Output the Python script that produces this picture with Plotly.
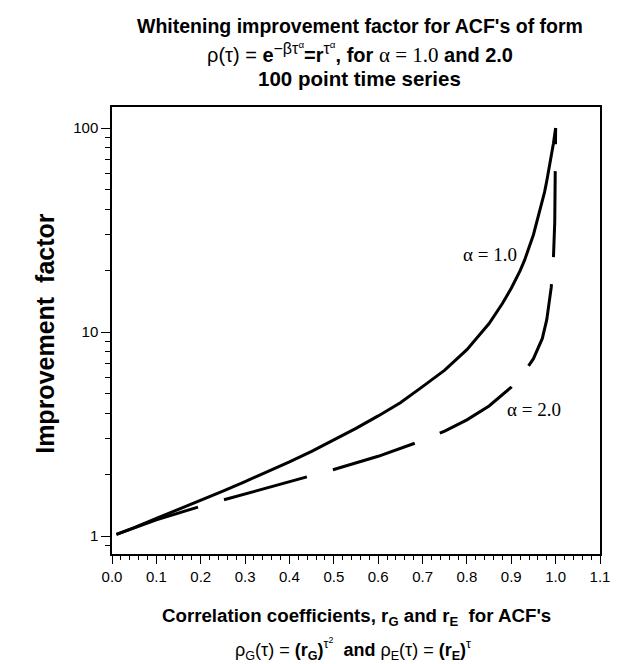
import plotly.graph_objects as go

# Correlation coefficient values and improvement factors
r_alpha1 = [0.01, 0.05, 0.10, 0.15, 0.20, 0.25, 0.30, 0.35, 0.40, 0.45, 0.50, 0.55,
            0.60, 0.65, 0.70, 0.75, 0.80, 0.85, 0.88, 0.90, 0.92, 0.93, 0.95, 0.96,
            0.97, 0.975, 0.98, 0.99, 0.995, 1.00]
f_alpha1 = [1.02, 1.10, 1.22, 1.35, 1.49, 1.66, 1.85, 2.06, 2.31, 2.60, 2.96, 3.37,
            3.88, 4.50, 5.40, 6.50, 8.2, 11.0, 13.8, 16.4, 20.0, 22.5, 30.0, 36.0,
            43.0, 48.5, 55.0, 72.0, 84.0, 100]

r_alpha2 = [0.01, 0.10, 0.20, 0.30, 0.40, 0.50, 0.60, 0.65, 0.70, 0.75, 0.80, 0.85,
            0.90, 0.93, 0.95, 0.97, 0.98, 0.99, 0.995, 0.998, 0.999, 0.9995, 0.9998,
            0.9999, 1.00]
f_alpha2 = [1.02, 1.20, 1.40, 1.61, 1.84, 2.12, 2.46, 2.68, 2.94, 3.27, 3.71, 4.34,
            5.37, 6.40, 7.40, 9.30, 11.5, 16.5, 23.0, 34.6, 46.0, 59.3, 75.0,
            83.0, 100]

x_tickvals = [0.0, 0.1, 0.2, 0.3, 0.4, 0.5, 0.6, 0.7, 0.8, 0.9, 1.0, 1.1]
x_ticktext = ["0.0", "0.1", "0.2", "0.3", "0.4", "0.5", "0.6", "0.7", "0.8", "0.9", "1.0", "1.1"]
y_tickvals = [1, 10, 100]
y_ticktext = ["1", "10", "100"]

SANS = "Liberation Sans, Arial, sans-serif"
SERIF = "Liberation Serif, Times New Roman, serif"

fig = go.Figure()
fig.add_trace(go.Scatter(x=r_alpha1, y=f_alpha1, mode="lines",
                         line=dict(color="black", width=3), showlegend=False))
fig.add_trace(go.Scatter(x=r_alpha2, y=f_alpha2, mode="lines",
                         line=dict(color="black", width=3, dash="86px,27px"),
                         showlegend=False))

fig.update_layout(
    width=623, height=664,
    margin=dict(l=104, r=31, t=99, b=118, pad=0),
    paper_bgcolor="white", plot_bgcolor="white",
    font=dict(family=SANS, color="black", size=15),
    xaxis=dict(range=[0, 1.1], showgrid=False, zeroline=False, automargin=False,
               showline=True, linecolor="black", linewidth=1.5, mirror=True,
               tickmode="array", tickvals=x_tickvals, ticktext=x_ticktext,
               ticks="outside", ticklen=8, tickwidth=1, tickcolor="black",
               tickfont=dict(size=15, family=SANS),
               minor=dict(dtick=0.02, ticks="outside", ticklen=4, tickcolor="black",
                          showgrid=False)),
    yaxis=dict(type="log", range=[-0.088, 2.103], showgrid=False, zeroline=False,
               automargin=False,
               showline=True, linecolor="black", linewidth=1.5, mirror=True,
               tickmode="array", tickvals=y_tickvals, ticktext=y_ticktext,
               ticks="outside", ticklen=9, tickwidth=1, tickcolor="black",
               tickfont=dict(size=15, family=SANS),
               minor=dict(dtick="D1", ticks="outside", ticklen=5, tickcolor="black",
                          showgrid=False)),
)

SUP_BIG = "<span style='font-size:16px'>"
ann = []
ann.append(dict(xref="paper", yref="paper", x=0.508, y=1.181, xanchor="center", yanchor="middle",
                text="<b>Whitening improvement factor for ACF's of form</b>",
                showarrow=False, font=dict(size=19.5, family=SANS)))
ann.append(dict(xref="paper", yref="paper", x=0.508, y=1.121, xanchor="center", yanchor="middle",
                text="ρ(τ) = <b>e</b><sup>" + SUP_BIG + "−βτ</span><sup>α</sup></sup>"
                     "<b>=r</b><sup>" + SUP_BIG + "τ</span><sup>α</sup></sup><b>, for</b> "
                     "<span style='font-family:Liberation Serif;font-size:21px'>α = 1.0</span><b> and 2.0</b>",
                showarrow=False, font=dict(size=20, family=SANS)))
ann.append(dict(xref="paper", yref="paper", x=0.508, y=1.064, xanchor="center", yanchor="middle",
                text="<b>100 point time series</b>",
                showarrow=False, font=dict(size=20.5, family=SANS)))
ann.append(dict(xref="paper", yref="paper", x=-0.136, y=0.494, xanchor="center", yanchor="middle",
                text="<b>Improvement  factor</b>", textangle=-90,
                showarrow=False, font=dict(size=25, family=SANS)))
ann.append(dict(xref="paper", yref="paper", x=0.500, y=-0.140, xanchor="center", yanchor="middle",
                text="<b>Correlation coefficients, r<sub>G</sub> and r<sub>E</sub>  for ACF's</b>",
                showarrow=False, font=dict(size=18.7, family=SANS)))
ann.append(dict(xref="paper", yref="paper", x=0.494, y=-0.212, xanchor="center", yanchor="middle",
                text="ρ<sub>G</sub>(τ) = <b>(r<sub>G</sub>)</b><sup>τ<sup>2</sup></sup>  <b>and</b> "
                     "ρ<sub>E</sub>(τ) = <b>(r<sub>E</sub>)</b><sup>τ</sup>",
                showarrow=False, font=dict(size=18, family=SANS)))
ann.append(dict(xref="x", yref="y", x=0.918, y=1.38, xanchor="right", yanchor="middle",
                text="α = 1.0", showarrow=False, font=dict(size=19, family=SERIF)))
ann.append(dict(xref="x", yref="y", x=0.951, y=0.622, xanchor="center", yanchor="middle",
                text="α = 2.0", showarrow=False, font=dict(size=19, family=SERIF)))
fig.update_layout(annotations=ann)

fig.write_html("out.html")
